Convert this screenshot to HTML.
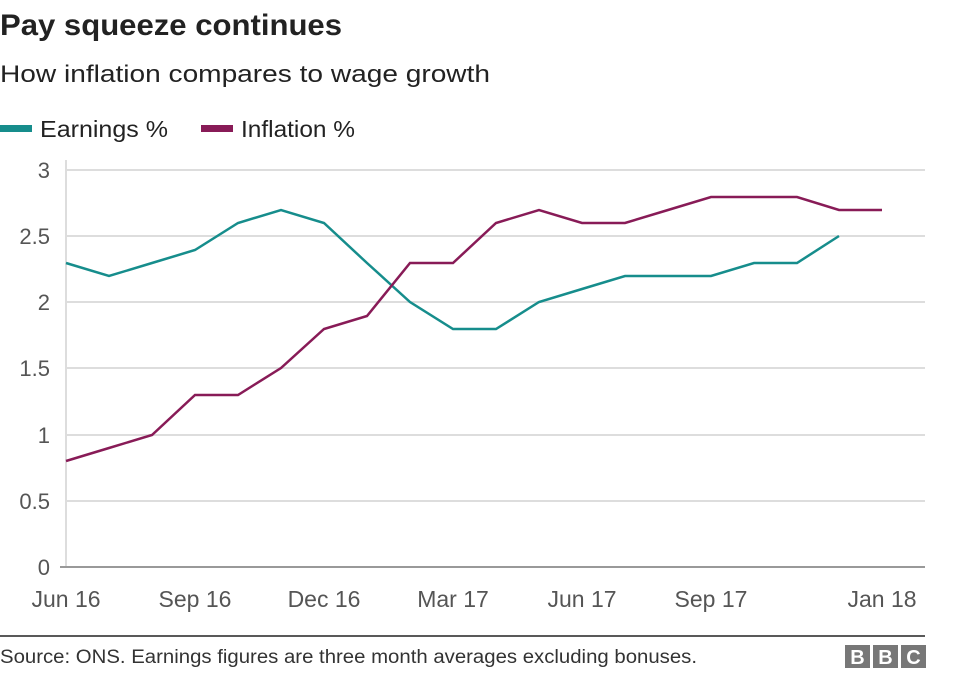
<!DOCTYPE html>
<html><head><meta charset="utf-8"><style>
body{margin:0;background:#fff;width:976px;height:674px;overflow:hidden;font-family:"Liberation Sans",Arial,sans-serif;}
</style></head><body>
<svg width="976" height="674" xmlns="http://www.w3.org/2000/svg" font-family="Liberation Sans, Arial, sans-serif">
<text x="0" y="35" font-size="30" font-weight="bold" fill="#222" textLength="342" lengthAdjust="spacingAndGlyphs">Pay squeeze continues</text>
<text x="0" y="82" font-size="24" fill="#222" textLength="490" lengthAdjust="spacingAndGlyphs">How inflation compares to wage growth</text>
<rect x="0" y="125" width="32" height="7" fill="#168d8c"/>
<text x="40" y="137" font-size="23" fill="#222" textLength="128" lengthAdjust="spacingAndGlyphs">Earnings %</text>
<rect x="201" y="125" width="32" height="7" fill="#881b57"/>
<text x="241" y="137" font-size="23" fill="#222" textLength="114" lengthAdjust="spacingAndGlyphs">Inflation %</text>
<g stroke="#ddd" stroke-width="2">
<line x1="66" y1="170" x2="925" y2="170"/>
<line x1="66" y1="236" x2="925" y2="236"/>
<line x1="66" y1="302" x2="925" y2="302"/>
<line x1="66" y1="368" x2="925" y2="368"/>
<line x1="66" y1="435" x2="925" y2="435"/>
<line x1="66" y1="501" x2="925" y2="501"/>
<line x1="66" y1="160" x2="66" y2="567"/>
</g>
<line x1="60" y1="567" x2="925" y2="567" stroke="#999" stroke-width="2"/>
<g font-size="22" fill="#555" text-anchor="end">
<text x="50" y="178">3</text><text x="50" y="244">2.5</text><text x="50" y="310">2</text>
<text x="50" y="376">1.5</text><text x="50" y="443">1</text><text x="50" y="509">0.5</text><text x="50" y="575">0</text>
</g>
<g font-size="23" fill="#555" text-anchor="middle">
<text x="66" y="607">Jun 16</text><text x="195" y="607">Sep 16</text><text x="324" y="607">Dec 16</text>
<text x="453" y="607">Mar 17</text><text x="582" y="607">Jun 17</text><text x="711" y="607">Sep 17</text><text x="882" y="607">Jan 18</text>
</g>
<polyline fill="none" stroke="#168d8c" stroke-width="2.5" points="66,263 109,276 152,263 195,250 238,223 281,210 324,223 367,263 410,302 453,329 496,329 539,302 582,289 625,276 668,276 711,276 754,263 797,263 839,236"/>
<polyline fill="none" stroke="#881b57" stroke-width="2.5" points="66,461 109,448 152,435 195,395 238,395 281,368 324,329 367,316 410,263 453,263 496,223 539,210 582,223 625,223 668,210 711,197 754,197 797,197 839,210 882,210"/>
<line x1="0" y1="636" x2="925" y2="636" stroke="#222" stroke-width="1.5"/>
<text x="0" y="663" font-size="19" fill="#333" textLength="697" lengthAdjust="spacingAndGlyphs">Source: ONS. Earnings figures are three month averages excluding bonuses.</text>
<g>
<rect x="845" y="645" width="25" height="23" fill="#777"/><rect x="873" y="645" width="25" height="23" fill="#777"/><rect x="901" y="645" width="25" height="23" fill="#777"/>
<g font-size="20" font-weight="bold" fill="#fff" text-anchor="middle"><text x="857.5" y="664">B</text><text x="885.5" y="664">B</text><text x="913.5" y="664">C</text></g>
</g>
</svg>
</body></html>
